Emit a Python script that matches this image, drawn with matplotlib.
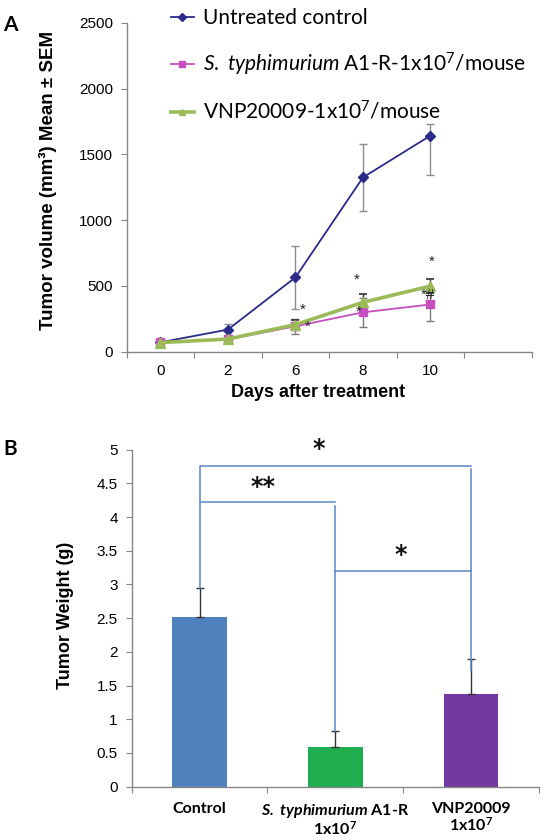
import numpy as np
import matplotlib
matplotlib.use("Agg")
import matplotlib.pyplot as plt

plt.rcParams['mathtext.fontset'] = 'custom'
plt.rcParams['mathtext.rm'] = 'Lato'
plt.rcParams['mathtext.it'] = 'Lato:italic'
plt.rcParams['mathtext.bf'] = 'Lato:bold'
plt.rcParams['mathtext.bfit'] = 'Lato:italic:bold'

# --- Panel A data: tumor volume (mm^3), mean +/- SEM ---
days = ['0', '2', '6', '8', '10']
untreated = [70, 167, 564, 1324, 1642]
untreated_err_lo = [0, 45, 238, 257, 298]
untreated_err_hi = [0, 45, 238, 257, 88]
typh = [72, 92, 192, 298, 358]
typh_err = [0, 15, 55, 110, 125]
vnp = [68, 95, 205, 374, 498]
vnp_err = [0, 12, 38, 60, 52]
series_labels = ["Untreated control",
                 r"$\mathit{S.\ typhimurium}$ A1-R-1x10$^7$/mouse",
                 r"VNP20009-1x10$^7$/mouse"]
# significance marks: (category position, y, text)
marks_a = [(2.11, 314, '*'), (2.18, 190, '*'),
           (2.91, 549, '*'), (2.94, 303, '*'),
           (4.02, 686, '*'), (3.96, 430, '*#')]

# --- Panel B data: tumor weight (g) ---
groups = ['Control',
          r"$\mathbfit{S.\ typhimurium}$ A1-R" + "\n" + r"1x10$^{\mathbf{7}}$",
          "VNP20009\n" + r"1x10$^{\mathbf{7}}$"]
weights = [2.52, 0.585, 1.375]
weight_err = [0.43, 0.235, 0.515]
bar_colors = ['#4F81BD', '#1EAE50', '#7438A0']
# brackets: (x1, x2, y)
brackets = [(0, 2, 4.76), (0, 1, 4.23), (1, 2, 3.205)]
marks_b = [(0.874, 5.01, '*'), (0.469, 4.45, '**'), (1.483, 3.43, '*')]

AXC = '#868686'

fig = plt.figure(figsize=(5.44, 8.4), dpi=100)
axA = fig.add_axes([0.2329, 0.5815, 0.7445, 0.3914])
axB = fig.add_axes([0.2421, 0.0635, 0.7487, 0.4012])

# ---------- Panel A ----------
x = np.arange(len(days))
axA.errorbar(x, untreated, yerr=[untreated_err_lo, untreated_err_hi],
             fmt='none', ecolor='#8C8C8C', elinewidth=1.0, capsize=3,
             capthick=1.0, zorder=2)
axA.errorbar(x, typh, yerr=typh_err, fmt='none', ecolor='#7A7A7A',
             elinewidth=1.0, capsize=3, capthick=1.0, zorder=2)
axA.errorbar(x, vnp, yerr=vnp_err, fmt='none', ecolor='#333333',
             elinewidth=1.0, capsize=3, capthick=1.2, zorder=2)
l1, = axA.plot(x, untreated, color='#2A2A8A', marker='D', ms=5, lw=1.3,
               label=series_labels[0], zorder=3)
l2, = axA.plot(x, typh, color='#C64FBF', marker='s', ms=6, lw=1.3,
               label=series_labels[1], zorder=4)
l3, = axA.plot(x, vnp, color='#9BBB59', marker='^', ms=6.5, lw=2.6,
               label=series_labels[2], zorder=5)
for xm, ym, t in marks_a:
    axA.text(xm, ym, t, ha='center', va='center', fontsize=11,
             family='Liberation Sans', color='#222222', zorder=6)

axA.set_xlim(-0.5, 5.5)
axA.set_ylim(0, 2500)
axA.set_yticks(np.arange(0, 2501, 500))
axA.set_xticks(np.arange(-0.5, 5.6, 1.0))
axA.set_xticklabels([])
axA.set_xticks(x, minor=True)
axA.set_xticklabels(days, minor=True)
axA.tick_params(axis='x', which='minor', length=0, pad=9)
for ax in (axA, axB):
    for s in ('top', 'right'):
        ax.spines[s].set_visible(False)
    for s in ('left', 'bottom'):
        ax.spines[s].set_color(AXC)
        ax.spines[s].set_linewidth(1.0)
    ax.tick_params(which='major', direction='out', length=4, color=AXC)
    ax.tick_params(which='both', labelsize=11)
    for lab in ax.get_yticklabels() + ax.get_xticklabels(minor=True):
        lab.set_family('Liberation Sans')
    ax.tick_params(axis='y', pad=6)

axA.set_xlabel('Days after treatment', fontsize=13, fontweight='bold',
               family='Liberation Sans')
axA.xaxis.set_label_coords(0.4736, -0.100)
axA.set_ylabel('Tumor volume (mm³) Mean ± SEM', fontsize=13.5,
               fontweight='bold', family='Liberation Sans')
axA.yaxis.set_label_coords(-0.171, 0.52)

leg = axA.legend(handles=[l1, l2, l3], loc='upper left',
                 bbox_to_anchor=(171 / 544, 1 - 8 / 840),
                 bbox_transform=fig.transFigure, frameon=False,
                 prop={'family': 'Lato', 'size': 15},
                 handlelength=1.1, handletextpad=0.45, labelspacing=1.08,
                 borderaxespad=0, borderpad=0, markerscale=0.75)

fig.text(10 / 544, 1 - 25 / 840, 'A', fontsize=15, fontweight='bold',
         family='Lato', ha='center', va='center')

# ---------- Panel B ----------
xb = np.arange(len(groups))
axB.bar(xb, weights, width=0.4, color=bar_colors, zorder=2,
        yerr=[np.zeros(len(weights)), weight_err],
        error_kw=dict(ecolor='#333333', elinewidth=1.0, capsize=3,
                      capthick=1.0))

bc = '#5A87C6'
tops = [w + e for w, e in zip(weights, weight_err)]
(b1x1, b1x2, b1y), (b2x1, b2x2, b2y), (b3x1, b3x2, b3y) = brackets
axB.plot([b1x1, b1x1, b1x2], [tops[0], b1y, b1y], color=bc, lw=1.1, zorder=3)
axB.plot([b1x2, b1x2], [b1y - 0.05, tops[2] - 0.16], color=bc, lw=1.1, zorder=3)
axB.plot([b2x1, b2x2], [b2y, b2y], color=bc, lw=1.1, zorder=3)
axB.plot([b2x2, b2x2], [b2y - 0.06, tops[1]], color=bc, lw=1.1, zorder=3)
axB.plot([b3x1, b3x2], [b3y, b3y], color=bc, lw=1.1, zorder=3)
for xm, ym, t in marks_b:
    axB.text(xm, ym, t, ha='center', va='center', fontsize=17,
             fontweight='bold', family='DejaVu Sans', color='#111111')

axB.set_xlim(-0.5, 2.5)
axB.set_ylim(0, 5)
axB.set_yticks(np.arange(0, 5.01, 0.5))
axB.set_yticklabels(['%g' % v for v in np.arange(0, 5.01, 0.5)],
                    family='Liberation Sans')
axB.set_xticks(np.arange(-0.5, 2.6, 1.0))
axB.set_xticklabels([])
axB.set_xticks(xb, minor=True)
axB.set_xticklabels(groups, minor=True, fontweight='bold', family='Lato',
                    fontsize=11.5, va='top', linespacing=1.0)
axB.tick_params(axis='x', which='minor', length=0, pad=11)
axB.set_ylabel('Tumor Weight (g)', fontsize=13, fontweight='bold',
               family='Liberation Sans')
axB.yaxis.set_label_coords(-0.1417, 0.5095)

fig.text(10 / 544, 1 - 449 / 840, 'B', fontsize=15, fontweight='bold',
         family='Lato', ha='center', va='center')

fig.savefig('out.png', dpi=100, facecolor='white')
